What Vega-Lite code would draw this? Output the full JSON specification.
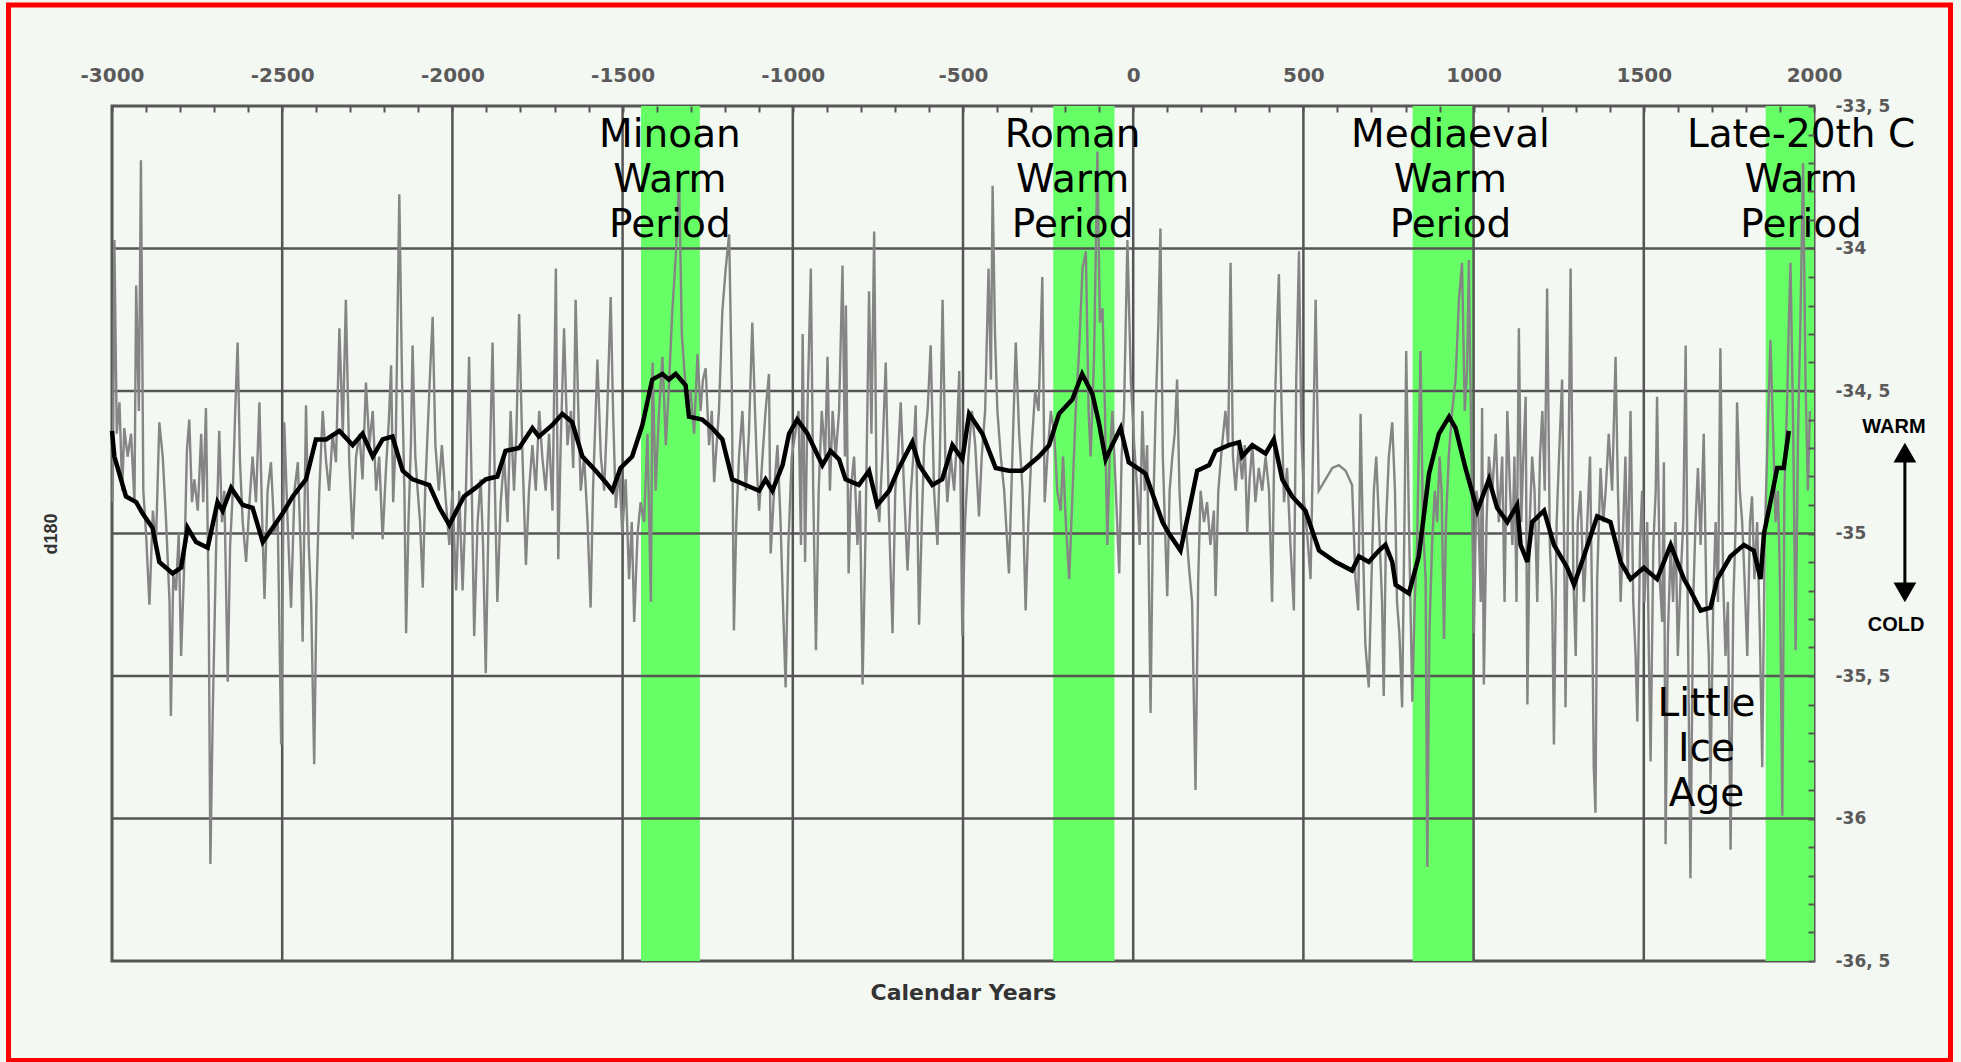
{
  "$schema": "https://vega.github.io/schema/vega-lite/v6.json",
  "width": 1702,
  "height": 855,
  "autosize": {"type": "none"},
  "padding": {"left": 112, "top": 106, "right": 147, "bottom": 101},
  "background": "#F4F8F3",
  "config": {"view": {"stroke": "#555555", "strokeWidth": 3}},
  "datasets": {
    "one": [{}],
    "bands": [
      {"name": "Minoan", "start": -1446, "end": -1273},
      {"name": "Roman", "start": -235, "end": -55},
      {"name": "Mediaeval", "start": 821, "end": 999},
      {"name": "Late-20th", "start": 1858, "end": 2000}
    ],
    "notes": [
      {"label": "Minoan\nWarm\nPeriod", "t": -1361, "v": -33.644},
      {"label": "Roman\nWarm\nPeriod", "t": -178, "v": -33.644},
      {"label": "Mediaeval\nWarm\nPeriod", "t": 932, "v": -33.644},
      {"label": "Late-20th C\nWarm\nPeriod", "t": 1962, "v": -33.644},
      {"label": "Little\nIce\nAge", "t": 1684, "v": -35.639}
    ],
    "side": [
      {"label": "WARM", "t": 2235, "v": -34.628},
      {"label": "COLD", "t": 2241, "v": -35.321}
    ],
    "heads": [
      {"dir": "up", "t": 2267, "v": -34.716},
      {"dir": "down", "t": 2267, "v": -35.207}
    ],
    "black": [
      {"t":-3000,"v":-34.64},{"t":-2993,"v":-34.73},{"t":-2959,"v":-34.87},{"t":-2929,"v":-34.89},{"t":-2910,"v":-34.93},{"t":-2881,"v":-34.98},{"t":-2861,"v":-35.10},{"t":-2822,"v":-35.14},{"t":-2797,"v":-35.12},{"t":-2778,"v":-34.98},{"t":-2753,"v":-35.03},{"t":-2719,"v":-35.05},{"t":-2690,"v":-34.89},{"t":-2675,"v":-34.92},{"t":-2650,"v":-34.84},{"t":-2616,"v":-34.90},{"t":-2587,"v":-34.91},{"t":-2557,"v":-35.03},{"t":-2528,"v":-34.98},{"t":-2499,"v":-34.93},{"t":-2469,"v":-34.87},{"t":-2430,"v":-34.81},{"t":-2401,"v":-34.67},{"t":-2371,"v":-34.67},{"t":-2332,"v":-34.64},{"t":-2293,"v":-34.69},{"t":-2264,"v":-34.65},{"t":-2234,"v":-34.73},{"t":-2205,"v":-34.67},{"t":-2176,"v":-34.66},{"t":-2146,"v":-34.78},{"t":-2117,"v":-34.81},{"t":-2068,"v":-34.83},{"t":-2038,"v":-34.91},{"t":-2009,"v":-34.97},{"t":-1988,"v":-34.92},
      {"t":-1966,"v":-34.87},{"t":-1932,"v":-34.84},{"t":-1902,"v":-34.81},{"t":-1868,"v":-34.80},{"t":-1844,"v":-34.71},{"t":-1804,"v":-34.70},{"t":-1765,"v":-34.63},{"t":-1746,"v":-34.66},{"t":-1707,"v":-34.62},{"t":-1677,"v":-34.58},{"t":-1648,"v":-34.61},{"t":-1618,"v":-34.73},{"t":-1579,"v":-34.78},{"t":-1550,"v":-34.82},{"t":-1530,"v":-34.85},{"t":-1506,"v":-34.77},{"t":-1472,"v":-34.73},{"t":-1442,"v":-34.62},{"t":-1413,"v":-34.46},{"t":-1383,"v":-34.44},{"t":-1364,"v":-34.46},{"t":-1344,"v":-34.44},{"t":-1315,"v":-34.48},{"t":-1305,"v":-34.59},{"t":-1266,"v":-34.60},{"t":-1237,"v":-34.63},{"t":-1207,"v":-34.67},{"t":-1178,"v":-34.81},{"t":-1139,"v":-34.83},{"t":-1099,"v":-34.85},{"t":-1080,"v":-34.81},{"t":-1060,"v":-34.85},{"t":-1030,"v":-34.76},{"t":-1011,"v":-34.65},{"t":-987,"v":-34.60},
      {"t":-957,"v":-34.65},{"t":-913,"v":-34.76},{"t":-889,"v":-34.71},{"t":-864,"v":-34.74},{"t":-845,"v":-34.81},{"t":-806,"v":-34.83},{"t":-776,"v":-34.78},{"t":-752,"v":-34.90},{"t":-717,"v":-34.85},{"t":-688,"v":-34.77},{"t":-649,"v":-34.68},{"t":-629,"v":-34.76},{"t":-590,"v":-34.83},{"t":-561,"v":-34.81},{"t":-531,"v":-34.69},{"t":-502,"v":-34.74},{"t":-482,"v":-34.58},{"t":-443,"v":-34.65},{"t":-404,"v":-34.77},{"t":-365,"v":-34.78},{"t":-326,"v":-34.78},{"t":-277,"v":-34.73},{"t":-247,"v":-34.69},{"t":-218,"v":-34.58},{"t":-179,"v":-34.53},{"t":-150,"v":-34.44},{"t":-120,"v":-34.51},{"t":-101,"v":-34.61},{"t":-81,"v":-34.74},{"t":-62,"v":-34.69},{"t":-37,"v":-34.63},{"t":-13,"v":-34.75},{"t":12,"v":-34.77},
      {"t":36,"v":-34.79},{"t":86,"v":-34.96},{"t":105,"v":-35.00},{"t":139,"v":-35.06},{"t":164,"v":-34.92},{"t":188,"v":-34.78},{"t":223,"v":-34.76},{"t":242,"v":-34.71},{"t":281,"v":-34.69},{"t":311,"v":-34.68},{"t":320,"v":-34.73},{"t":350,"v":-34.69},{"t":389,"v":-34.72},{"t":413,"v":-34.67},{"t":438,"v":-34.81},{"t":467,"v":-34.87},{"t":506,"v":-34.92},{"t":546,"v":-35.06},{"t":595,"v":-35.10},{"t":643,"v":-35.13},{"t":663,"v":-35.08},{"t":692,"v":-35.10},{"t":722,"v":-35.06},{"t":741,"v":-35.04},{"t":761,"v":-35.10},{"t":771,"v":-35.18},{"t":810,"v":-35.21},{"t":839,"v":-35.08},{"t":869,"v":-34.79},{"t":898,"v":-34.65},{"t":928,"v":-34.59},{"t":947,"v":-34.63},{"t":976,"v":-34.77},
      {"t":1011,"v":-34.92},{"t":1045,"v":-34.81},{"t":1069,"v":-34.91},{"t":1099,"v":-34.96},{"t":1128,"v":-34.90},{"t":1138,"v":-35.04},{"t":1158,"v":-35.10},{"t":1172,"v":-34.96},{"t":1207,"v":-34.92},{"t":1236,"v":-35.04},{"t":1275,"v":-35.12},{"t":1295,"v":-35.18},{"t":1324,"v":-35.08},{"t":1363,"v":-34.94},{"t":1402,"v":-34.96},{"t":1432,"v":-35.10},{"t":1461,"v":-35.16},{"t":1500,"v":-35.12},{"t":1539,"v":-35.16},{"t":1579,"v":-35.04},{"t":1618,"v":-35.16},{"t":1637,"v":-35.20},{"t":1667,"v":-35.27},{"t":1696,"v":-35.26},{"t":1716,"v":-35.16},{"t":1755,"v":-35.08},{"t":1794,"v":-35.04},{"t":1823,"v":-35.06},{"t":1843,"v":-35.16},{"t":1853,"v":-35.00},{"t":1872,"v":-34.89},{"t":1892,"v":-34.77},{"t":1911,"v":-34.77},{"t":1926,"v":-34.64}
    ],
    "gray": [
      {"t":-2998,"v":-34.89},{"t":-2993,"v":-33.97},{"t":-2986,"v":-34.65},{"t":-2978,"v":-34.54},{"t":-2970,"v":-34.85},{"t":-2964,"v":-34.63},{"t":-2954,"v":-34.73},{"t":-2944,"v":-34.65},{"t":-2934,"v":-34.89},{"t":-2929,"v":-34.13},{"t":-2921,"v":-34.57},{"t":-2915,"v":-33.69},{"t":-2908,"v":-34.85},{"t":-2900,"v":-35.00},{"t":-2890,"v":-35.25},{"t":-2880,"v":-34.92},{"t":-2871,"v":-35.04},{"t":-2861,"v":-34.61},{"t":-2851,"v":-34.73},{"t":-2841,"v":-34.96},{"t":-2831,"v":-35.24},{"t":-2827,"v":-35.64},{"t":-2820,"v":-35.14},{"t":-2812,"v":-35.20},{"t":-2804,"v":-35.00},{"t":-2797,"v":-35.43},{"t":-2787,"v":-35.08},{"t":-2780,"v":-34.71},{"t":-2773,"v":-34.60},{"t":-2765,"v":-34.89},{"t":-2758,"v":-34.81},{"t":-2748,"v":-34.92},{"t":-2738,"v":-34.65},{"t":-2732,"v":-34.89},{"t":-2724,"v":-34.56},{"t":-2716,"v":-35.24},{"t":-2711,"v":-36.16},{"t":-2704,"v":-35.63},{"t":-2694,"v":-35.04},{"t":-2685,"v":-34.64},{"t":-2677,"v":-34.96},{"t":-2670,"v":-34.85},{"t":-2660,"v":-35.52},{"t":-2653,"v":-35.04},{"t":-2645,"v":-34.85},{"t":-2638,"v":-34.57},{"t":-2631,"v":-34.33},{"t":-2624,"v":-34.75},{"t":-2616,"v":-34.96},{"t":-2606,"v":-35.10},{"t":-2596,"v":-34.89},{"t":-2587,"v":-34.73},{"t":-2577,"v":-34.89},{"t":-2567,"v":-34.54},{"t":-2559,"v":-34.94},{"t":-2552,"v":-35.23},{"t":-2543,"v":-34.85},{"t":-2533,"v":-34.75},{"t":-2523,"v":-35.00},{"t":-2513,"v":-34.96},{"t":-2503,"v":-35.74},{"t":-2499,"v":-35.24},{"t":-2494,"v":-34.61},{"t":-2484,"v":-34.96},{"t":-2474,"v":-35.26},{"t":-2464,"v":-34.85},{"t":-2454,"v":-34.75},{"t":-2445,"v":-35.08},{"t":-2440,"v":-35.38},{"t":-2430,"v":-34.55},{"t":-2422,"v":-35.04},{"t":-2415,"v":-35.24},{"t":-2406,"v":-35.81},{"t":-2399,"v":-35.20},{"t":-2391,"v":-34.85},{"t":-2381,"v":-34.57},{"t":-2371,"v":-34.75},{"t":-2362,"v":-34.85},{"t":-2352,"v":-34.65},{"t":-2342,"v":-34.75},{"t":-2332,"v":-34.28},{"t":-2322,"v":-34.65},{"t":-2313,"v":-34.18},{"t":-2303,"v":-34.75},{"t":-2293,"v":-35.02},{"t":-2283,"v":-34.73},{"t":-2273,"v":-34.65},{"t":-2264,"v":-34.81},{"t":-2254,"v":-34.47},{"t":-2244,"v":-34.69},{"t":-2234,"v":-34.57},{"t":-2224,"v":-34.85},{"t":-2215,"v":-34.73},{"t":-2205,"v":-35.02},{"t":-2195,"v":-34.77},{"t":-2187,"v":-34.61},{"t":-2180,"v":-34.41},{"t":-2174,"v":-34.89},{"t":-2166,"v":-34.65},{"t":-2156,"v":-33.81},{"t":-2148,"v":-34.46},{"t":-2141,"v":-34.85},{"t":-2136,"v":-35.35},{"t":-2129,"v":-34.96},{"t":-2122,"v":-34.69},{"t":-2117,"v":-34.34},{"t":-2109,"v":-34.73},{"t":-2102,"v":-34.85},{"t":-2095,"v":-34.96},{"t":-2087,"v":-35.19},{"t":-2080,"v":-34.85},{"t":-2073,"v":-34.65},{"t":-2065,"v":-34.42},{"t":-2058,"v":-34.24},{"t":-2050,"v":-34.69},{"t":-2040,"v":-34.85},{"t":-2031,"v":-34.69},{"t":-2019,"v":-34.89},{"t":-2009,"v":-35.04},{"t":-2000,"v":-34.85},{"t":-1989,"v":-35.20},
      {"t":-1980,"v":-34.85},{"t":-1970,"v":-35.20},{"t":-1961,"v":-34.89},{"t":-1951,"v":-34.38},{"t":-1943,"v":-34.85},{"t":-1936,"v":-35.36},{"t":-1926,"v":-34.96},{"t":-1917,"v":-34.81},{"t":-1910,"v":-35.04},{"t":-1902,"v":-35.49},{"t":-1894,"v":-34.96},{"t":-1882,"v":-34.33},{"t":-1875,"v":-34.85},{"t":-1868,"v":-35.24},{"t":-1858,"v":-34.89},{"t":-1848,"v":-34.73},{"t":-1838,"v":-34.96},{"t":-1829,"v":-34.57},{"t":-1819,"v":-34.85},{"t":-1812,"v":-34.65},{"t":-1804,"v":-34.23},{"t":-1794,"v":-34.73},{"t":-1784,"v":-35.11},{"t":-1775,"v":-34.85},{"t":-1765,"v":-34.69},{"t":-1755,"v":-34.85},{"t":-1745,"v":-34.57},{"t":-1736,"v":-34.73},{"t":-1726,"v":-34.85},{"t":-1716,"v":-34.65},{"t":-1706,"v":-34.92},{"t":-1696,"v":-34.07},{"t":-1689,"v":-35.09},{"t":-1682,"v":-34.69},{"t":-1672,"v":-34.28},{"t":-1662,"v":-34.69},{"t":-1652,"v":-34.57},{"t":-1645,"v":-34.77},{"t":-1638,"v":-34.18},{"t":-1630,"v":-34.57},{"t":-1623,"v":-34.85},{"t":-1613,"v":-34.73},{"t":-1603,"v":-34.96},{"t":-1594,"v":-35.26},{"t":-1587,"v":-34.85},{"t":-1579,"v":-34.57},{"t":-1574,"v":-34.39},{"t":-1564,"v":-34.73},{"t":-1554,"v":-34.85},{"t":-1545,"v":-34.57},{"t":-1535,"v":-34.17},{"t":-1528,"v":-34.57},{"t":-1520,"v":-34.91},{"t":-1510,"v":-34.77},{"t":-1501,"v":-35.00},{"t":-1491,"v":-34.81},{"t":-1481,"v":-35.16},{"t":-1473,"v":-34.96},{"t":-1466,"v":-35.31},{"t":-1456,"v":-35.00},{"t":-1447,"v":-34.89},{"t":-1437,"v":-34.96},{"t":-1427,"v":-34.65},{"t":-1417,"v":-35.24},{"t":-1412,"v":-34.40},{"t":-1403,"v":-34.85},{"t":-1393,"v":-34.57},{"t":-1383,"v":-34.38},{"t":-1373,"v":-34.69},{"t":-1363,"v":-34.46},{"t":-1354,"v":-34.22},{"t":-1344,"v":-34.03},{"t":-1334,"v":-33.76},{"t":-1326,"v":-34.30},{"t":-1319,"v":-34.42},{"t":-1310,"v":-34.57},{"t":-1300,"v":-34.50},{"t":-1290,"v":-34.65},{"t":-1280,"v":-34.37},{"t":-1271,"v":-34.57},{"t":-1264,"v":-34.46},{"t":-1256,"v":-34.42},{"t":-1246,"v":-34.69},{"t":-1238,"v":-34.57},{"t":-1231,"v":-34.82},{"t":-1224,"v":-34.69},{"t":-1217,"v":-34.57},{"t":-1207,"v":-34.22},{"t":-1197,"v":-34.07},{"t":-1187,"v":-33.95},{"t":-1179,"v":-34.50},{"t":-1173,"v":-35.34},{"t":-1166,"v":-34.96},{"t":-1158,"v":-34.73},{"t":-1148,"v":-34.57},{"t":-1138,"v":-34.85},{"t":-1129,"v":-34.65},{"t":-1119,"v":-34.26},{"t":-1111,"v":-34.57},{"t":-1104,"v":-34.81},{"t":-1099,"v":-34.92},{"t":-1089,"v":-34.73},{"t":-1080,"v":-34.57},{"t":-1070,"v":-34.44},{"t":-1065,"v":-35.07},{"t":-1055,"v":-34.85},{"t":-1045,"v":-34.69},{"t":-1036,"v":-34.96},{"t":-1029,"v":-35.24},{"t":-1021,"v":-35.54},{"t":-1013,"v":-35.04},{"t":-1003,"v":-34.73},{"t":-993,"v":-34.65},
      {"t":-983,"v":-34.57},{"t":-976,"v":-35.04},{"t":-971,"v":-34.30},{"t":-964,"v":-35.10},{"t":-957,"v":-34.57},{"t":-947,"v":-34.07},{"t":-940,"v":-34.85},{"t":-932,"v":-35.41},{"t":-924,"v":-34.85},{"t":-915,"v":-34.57},{"t":-905,"v":-34.73},{"t":-898,"v":-34.38},{"t":-891,"v":-34.85},{"t":-883,"v":-34.57},{"t":-874,"v":-34.73},{"t":-864,"v":-34.57},{"t":-854,"v":-34.06},{"t":-847,"v":-34.73},{"t":-844,"v":-34.20},{"t":-836,"v":-35.14},{"t":-830,"v":-34.85},{"t":-820,"v":-34.73},{"t":-810,"v":-35.04},{"t":-803,"v":-34.85},{"t":-795,"v":-35.53},{"t":-787,"v":-35.04},{"t":-781,"v":-34.57},{"t":-776,"v":-34.15},{"t":-769,"v":-34.65},{"t":-761,"v":-33.94},{"t":-754,"v":-34.85},{"t":-746,"v":-34.96},{"t":-737,"v":-34.73},{"t":-727,"v":-34.40},{"t":-717,"v":-34.96},{"t":-707,"v":-35.35},{"t":-699,"v":-34.85},{"t":-691,"v":-34.73},{"t":-683,"v":-34.54},{"t":-673,"v":-34.85},{"t":-663,"v":-35.13},{"t":-653,"v":-34.85},{"t":-646,"v":-34.73},{"t":-639,"v":-34.55},{"t":-629,"v":-35.32},{"t":-621,"v":-34.96},{"t":-614,"v":-34.69},{"t":-604,"v":-34.57},{"t":-595,"v":-34.34},{"t":-585,"v":-34.85},{"t":-575,"v":-35.04},{"t":-568,"v":-34.73},{"t":-560,"v":-34.18},{"t":-552,"v":-34.73},{"t":-546,"v":-34.89},{"t":-536,"v":-34.73},{"t":-526,"v":-34.85},{"t":-519,"v":-34.69},{"t":-511,"v":-34.43},{"t":-502,"v":-35.36},{"t":-494,"v":-34.96},{"t":-484,"v":-34.73},{"t":-474,"v":-34.57},{"t":-464,"v":-34.69},{"t":-453,"v":-34.94},{"t":-445,"v":-34.73},{"t":-435,"v":-34.57},{"t":-425,"v":-34.07},{"t":-418,"v":-34.46},{"t":-413,"v":-33.78},{"t":-406,"v":-34.30},{"t":-399,"v":-34.57},{"t":-389,"v":-34.73},{"t":-379,"v":-34.85},{"t":-365,"v":-35.14},{"t":-355,"v":-34.73},{"t":-345,"v":-34.33},{"t":-335,"v":-34.65},{"t":-325,"v":-34.85},{"t":-316,"v":-35.27},{"t":-308,"v":-34.96},{"t":-298,"v":-34.69},{"t":-288,"v":-34.50},{"t":-278,"v":-34.57},{"t":-267,"v":-34.10},{"t":-260,"v":-34.89},{"t":-252,"v":-34.73},{"t":-242,"v":-34.57},{"t":-232,"v":-34.65},{"t":-223,"v":-34.85},{"t":-213,"v":-34.92},{"t":-206,"v":-34.73},{"t":-198,"v":-34.96},{"t":-188,"v":-35.16},{"t":-178,"v":-34.85},{"t":-169,"v":-34.57},{"t":-159,"v":-34.36},{"t":-149,"v":-34.07},{"t":-139,"v":-34.01},{"t":-131,"v":-34.57},{"t":-125,"v":-34.73},{"t":-115,"v":-34.38},{"t":-105,"v":-33.66},{"t":-98,"v":-34.26},{"t":-90,"v":-34.21},{"t":-83,"v":-34.57},{"t":-76,"v":-35.04},{"t":-69,"v":-34.73},{"t":-61,"v":-34.57},{"t":-51,"v":-34.85},{"t":-41,"v":-35.14},{"t":-34,"v":-34.73},{"t":-27,"v":-34.57},{"t":-17,"v":-33.97},{"t":-7,"v":-34.46},{"t":3,"v":-34.69},{"t":12,"v":-34.85},
      {"t":19,"v":-35.04},{"t":27,"v":-34.57},{"t":34,"v":-34.85},{"t":41,"v":-34.69},{"t":51,"v":-35.63},{"t":58,"v":-34.96},{"t":66,"v":-34.57},{"t":74,"v":-34.26},{"t":80,"v":-33.93},{"t":87,"v":-34.73},{"t":93,"v":-34.96},{"t":100,"v":-35.22},{"t":107,"v":-34.85},{"t":115,"v":-34.73},{"t":122,"v":-34.65},{"t":129,"v":-34.46},{"t":136,"v":-34.85},{"t":144,"v":-35.04},{"t":154,"v":-34.96},{"t":164,"v":-35.12},{"t":173,"v":-35.24},{"t":183,"v":-35.90},{"t":191,"v":-35.16},{"t":198,"v":-34.85},{"t":208,"v":-34.96},{"t":217,"v":-34.89},{"t":227,"v":-35.04},{"t":237,"v":-34.92},{"t":242,"v":-35.22},{"t":250,"v":-34.85},{"t":261,"v":-34.69},{"t":271,"v":-34.57},{"t":279,"v":-34.69},{"t":286,"v":-34.05},{"t":293,"v":-34.73},{"t":301,"v":-34.85},{"t":310,"v":-34.69},{"t":320,"v":-34.81},{"t":328,"v":-34.69},{"t":335,"v":-35.00},{"t":342,"v":-34.81},{"t":350,"v":-34.69},{"t":359,"v":-34.89},{"t":369,"v":-34.77},{"t":379,"v":-34.85},{"t":389,"v":-34.73},{"t":399,"v":-34.85},{"t":408,"v":-35.24},{"t":416,"v":-34.57},{"t":423,"v":-34.26},{"t":428,"v":-34.09},{"t":436,"v":-34.57},{"t":443,"v":-34.89},{"t":452,"v":-34.77},{"t":462,"v":-35.04},{"t":472,"v":-35.27},{"t":479,"v":-34.46},{"t":487,"v":-34.01},{"t":494,"v":-34.65},{"t":502,"v":-34.89},{"t":511,"v":-35.00},{"t":521,"v":-35.16},{"t":528,"v":-34.73},{"t":536,"v":-34.18},{"t":545,"v":-34.85},{"t":565,"v":-34.81},{"t":585,"v":-34.77},{"t":604,"v":-34.76},{"t":624,"v":-34.78},{"t":643,"v":-34.83},{"t":653,"v":-35.16},{"t":661,"v":-35.27},{"t":668,"v":-34.58},{"t":675,"v":-35.04},{"t":682,"v":-35.39},{"t":692,"v":-35.54},{"t":700,"v":-35.16},{"t":707,"v":-34.85},{"t":714,"v":-34.73},{"t":722,"v":-34.96},{"t":731,"v":-35.24},{"t":736,"v":-35.57},{"t":743,"v":-34.96},{"t":751,"v":-34.73},{"t":761,"v":-34.61},{"t":769,"v":-34.85},{"t":775,"v":-35.24},{"t":782,"v":-35.35},{"t":790,"v":-35.61},{"t":798,"v":-34.85},{"t":802,"v":-34.36},{"t":810,"v":-34.96},{"t":820,"v":-35.59},{"t":827,"v":-35.24},{"t":834,"v":-35.04},{"t":844,"v":-34.36},{"t":851,"v":-34.96},{"t":859,"v":-35.16},{"t":864,"v":-36.17},{"t":870,"v":-35.35},{"t":878,"v":-35.04},{"t":886,"v":-34.85},{"t":893,"v":-34.96},{"t":900,"v":-34.73},{"t":906,"v":-34.85},{"t":913,"v":-35.37},{"t":919,"v":-34.96},{"t":927,"v":-34.73},{"t":937,"v":-34.57},{"t":947,"v":-34.46},{"t":957,"v":-34.18},{"t":966,"v":-34.05},{"t":974,"v":-34.57},{"t":981,"v":-34.42},{"t":986,"v":-34.04},{"t":994,"v":-34.77},{"t":1001,"v":-35.35},{"t":1008,"v":-34.85},
      {"t":1013,"v":-34.89},{"t":1021,"v":-35.24},{"t":1025,"v":-34.56},{"t":1030,"v":-35.53},{"t":1038,"v":-34.96},{"t":1045,"v":-34.73},{"t":1055,"v":-34.85},{"t":1065,"v":-34.65},{"t":1074,"v":-34.96},{"t":1084,"v":-34.73},{"t":1091,"v":-35.24},{"t":1099,"v":-34.57},{"t":1107,"v":-34.85},{"t":1114,"v":-35.04},{"t":1120,"v":-34.73},{"t":1126,"v":-35.24},{"t":1133,"v":-34.28},{"t":1140,"v":-34.96},{"t":1146,"v":-34.73},{"t":1153,"v":-34.52},{"t":1158,"v":-35.60},{"t":1165,"v":-34.96},{"t":1172,"v":-34.73},{"t":1179,"v":-34.85},{"t":1187,"v":-35.24},{"t":1195,"v":-34.73},{"t":1202,"v":-34.57},{"t":1209,"v":-34.85},{"t":1216,"v":-34.14},{"t":1224,"v":-35.04},{"t":1231,"v":-35.24},{"t":1236,"v":-35.74},{"t":1244,"v":-34.96},{"t":1251,"v":-34.73},{"t":1260,"v":-34.46},{"t":1267,"v":-35.16},{"t":1270,"v":-35.61},{"t":1277,"v":-34.96},{"t":1285,"v":-34.07},{"t":1293,"v":-35.16},{"t":1300,"v":-35.43},{"t":1306,"v":-34.96},{"t":1314,"v":-34.85},{"t":1324,"v":-35.24},{"t":1334,"v":-34.96},{"t":1342,"v":-34.73},{"t":1348,"v":-35.24},{"t":1353,"v":-35.82},{"t":1358,"v":-35.98},{"t":1363,"v":-35.16},{"t":1373,"v":-34.77},{"t":1381,"v":-34.96},{"t":1388,"v":-34.85},{"t":1397,"v":-34.65},{"t":1407,"v":-34.85},{"t":1417,"v":-34.38},{"t":1424,"v":-34.85},{"t":1432,"v":-35.24},{"t":1440,"v":-34.96},{"t":1446,"v":-34.73},{"t":1453,"v":-35.16},{"t":1461,"v":-34.57},{"t":1469,"v":-35.24},{"t":1476,"v":-35.43},{"t":1481,"v":-35.66},{"t":1489,"v":-35.04},{"t":1495,"v":-34.85},{"t":1502,"v":-35.24},{"t":1510,"v":-34.96},{"t":1515,"v":-35.43},{"t":1520,"v":-35.80},{"t":1528,"v":-35.04},{"t":1535,"v":-34.85},{"t":1539,"v":-34.52},{"t":1547,"v":-35.16},{"t":1554,"v":-35.31},{"t":1559,"v":-34.75},{"t":1564,"v":-36.09},{"t":1571,"v":-35.35},{"t":1579,"v":-35.04},{"t":1586,"v":-35.24},{"t":1593,"v":-34.96},{"t":1600,"v":-35.43},{"t":1608,"v":-35.16},{"t":1616,"v":-34.96},{"t":1623,"v":-34.34},{"t":1629,"v":-35.24},{"t":1637,"v":-36.21},{"t":1645,"v":-35.24},{"t":1652,"v":-34.96},{"t":1659,"v":-34.77},{"t":1667,"v":-35.04},{"t":1676,"v":-34.65},{"t":1684,"v":-35.24},{"t":1691,"v":-35.43},{"t":1696,"v":-35.88},{"t":1704,"v":-35.24},{"t":1711,"v":-34.96},{"t":1718,"v":-35.24},{"t":1725,"v":-34.35},{"t":1733,"v":-35.16},{"t":1740,"v":-35.43},{"t":1747,"v":-35.24},{"t":1755,"v":-36.11},{"t":1763,"v":-35.24},{"t":1770,"v":-34.96},{"t":1774,"v":-34.54},{"t":1782,"v":-34.85},{"t":1789,"v":-34.96},{"t":1796,"v":-35.16},{"t":1804,"v":-35.43},{"t":1812,"v":-34.96},{"t":1818,"v":-34.87},{"t":1825,"v":-35.16},{"t":1833,"v":-34.96},{"t":1841,"v":-35.35},{"t":1848,"v":-35.82},{"t":1855,"v":-35.04},{"t":1862,"v":-34.73},{"t":1872,"v":-34.32},{"t":1880,"v":-34.65},{"t":1887,"v":-34.96},{"t":1894,"v":-34.85},{"t":1900,"v":-35.16},{"t":1907,"v":-35.99},{"t":1913,"v":-34.85},{"t":1921,"v":-34.54},{"t":1926,"v":-34.26},{"t":1931,"v":-34.05},{"t":1939,"v":-34.65},{"t":1946,"v":-35.41},{"t":1953,"v":-34.65},{"t":1960,"v":-34.26},{"t":1968,"v":-33.70},{"t":1975,"v":-34.46},{"t":1982,"v":-34.85},{"t":1988,"v":-34.57}
    ]
  },
  "layer": [
    {
      "data": {"name": "one"},
      "mark": {"type": "rect", "fill": "transparent", "stroke": "#FF0000", "strokeWidth": 5},
      "encoding": {
        "x": {"datum": -3304, "type": "quantitative", "scale": {"domain": [-3000, 2000], "nice": false, "zero": false}, "axis": null},
        "x2": {"datum": 2401},
        "y": {"datum": -33.146, "type": "quantitative", "scale": {"domain": [-36.5, -33.5], "nice": false, "zero": false}, "axis": null},
        "y2": {"datum": -36.849}
      }
    },
    {
      "data": {"name": "bands"},
      "mark": {"type": "rect", "color": "#66FF66"},
      "encoding": {
        "x": {
          "field": "start", "type": "quantitative",
          "scale": {"domain": [-3000, 2000], "nice": false, "zero": false},
          "axis": {
            "orient": "top",
            "values": [-3000,-2900,-2800,-2700,-2600,-2500,-2400,-2300,-2200,-2100,-2000,-1900,-1800,-1700,-1600,-1500,-1400,-1300,-1200,-1100,-1000,-900,-800,-700,-600,-500,-400,-300,-200,-100,0,100,200,300,400,500,600,700,800,900,1000,1100,1200,1300,1400,1500,1600,1700,1800,1900,2000],
            "labelExpr": "datum.value % 500 == 0 ? (datum.value < 0 ? '-' + abs(datum.value) : '' + datum.value) : ''",
            "labelOverlap": false, "labelFlush": false,
            "tickSize": -6, "tickWidth": 2, "tickColor": "#555555",
            "domain": false, "grid": false,
            "labelFont": "DejaVu Sans", "labelFontSize": 20, "labelFontWeight": "bold", "labelColor": "#5a5a5a",
            "labelPadding": 27, "title": null, "zindex": 1
          }
        },
        "x2": {"field": "end"}
      }
    },
    {
      "data": {"values": [{"g": -2500}, {"g": -2000}, {"g": -1500}, {"g": -1000}, {"g": -500}, {"g": 0}, {"g": 500}, {"g": 1000}, {"g": 1500}]},
      "mark": {"type": "rule", "color": "#555555", "strokeWidth": 2.5},
      "encoding": {
        "x": {"field": "g", "type": "quantitative", "scale": {"domain": [-3000, 2000], "nice": false, "zero": false}, "axis": null}
      }
    },
    {
      "data": {"values": [{"h": -34}, {"h": -34.5}, {"h": -35}, {"h": -35.5}, {"h": -36}]},
      "mark": {"type": "rule", "color": "#555555", "strokeWidth": 2.5},
      "encoding": {
        "y": {
          "field": "h", "type": "quantitative",
          "scale": {"domain": [-36.5, -33.5], "nice": false, "zero": false},
          "axis": {
            "orient": "right",
            "values": [-33.5,-33.6,-33.7,-33.8,-33.9,-34,-34.1,-34.2,-34.3,-34.4,-34.5,-34.6,-34.7,-34.8,-34.9,-35,-35.1,-35.2,-35.3,-35.4,-35.5,-35.6,-35.7,-35.8,-35.9,-36,-36.1,-36.2,-36.3,-36.4,-36.5],
            "labelExpr": "abs(datum.value * 2 - round(datum.value * 2)) < 0.001 ? replace('' + datum.value, '.', ', ') : ''",
            "labelOverlap": false, "labelFlush": false,
            "tickSize": -6, "tickWidth": 2, "tickColor": "#555555",
            "domain": false, "grid": false,
            "labelFont": "DejaVu Sans", "labelFontSize": 17, "labelFontWeight": "bold", "labelColor": "#5a5a5a",
            "labelPadding": 27, "labelAlign": "left", "title": null, "zindex": 1
          }
        }
      }
    },
    {
      "data": {"name": "gray"},
      "mark": {"type": "line", "color": "#858585", "strokeWidth": 2.4},
      "encoding": {
        "x": {"field": "t", "type": "quantitative", "scale": {"domain": [-3000, 2000], "nice": false, "zero": false}, "axis": null},
        "y": {"field": "v", "type": "quantitative", "scale": {"domain": [-36.5, -33.5], "nice": false, "zero": false}, "axis": null}
      }
    },
    {
      "data": {"name": "black"},
      "mark": {"type": "line", "color": "#000000", "strokeWidth": 4.5},
      "encoding": {
        "x": {
          "field": "t", "type": "quantitative",
          "scale": {"domain": [-3000, 2000], "nice": false, "zero": false},
          "axis": {"orient": "bottom", "title": "Calendar Years", "labels": false, "ticks": false, "domain": false, "grid": false, "titleFont": "DejaVu Sans", "titleFontSize": 22, "titleFontWeight": "bold", "titleColor": "#333333", "titlePadding": 21}
        },
        "y": {
          "field": "v", "type": "quantitative",
          "scale": {"domain": [-36.5, -33.5], "nice": false, "zero": false},
          "axis": {"orient": "left", "title": "d180", "labels": false, "ticks": false, "domain": false, "grid": false, "titleFont": "Liberation Sans", "titleFontSize": 18, "titleFontWeight": "bold", "titleColor": "#333333", "titlePadding": 52}
        }
      }
    },
    {
      "data": {"name": "notes"},
      "mark": {"type": "text", "font": "DejaVu Sans", "fontSize": 39, "lineBreak": "\n", "lineHeight": 45, "align": "center", "baseline": "alphabetic", "color": "#000000"},
      "encoding": {
        "x": {"field": "t", "type": "quantitative", "scale": {"domain": [-3000, 2000], "nice": false, "zero": false}, "axis": null},
        "y": {"field": "v", "type": "quantitative", "scale": {"domain": [-36.5, -33.5], "nice": false, "zero": false}, "axis": null},
        "text": {"field": "label"}
      }
    },
    {
      "data": {"name": "side"},
      "mark": {"type": "text", "font": "Liberation Sans", "fontSize": 20, "fontWeight": "bold", "align": "center", "baseline": "middle", "color": "#000000"},
      "encoding": {
        "x": {"field": "t", "type": "quantitative", "scale": {"domain": [-3000, 2000], "nice": false, "zero": false}, "axis": null},
        "y": {"field": "v", "type": "quantitative", "scale": {"domain": [-36.5, -33.5], "nice": false, "zero": false}, "axis": null},
        "text": {"field": "label"}
      }
    },
    {
      "data": {"name": "one"},
      "mark": {"type": "rule", "color": "#000000", "strokeWidth": 3},
      "encoding": {
        "x": {"datum": 2267, "type": "quantitative", "scale": {"domain": [-3000, 2000], "nice": false, "zero": false}, "axis": null},
        "y": {"datum": -34.72, "type": "quantitative", "scale": {"domain": [-36.5, -33.5], "nice": false, "zero": false}, "axis": null},
        "y2": {"datum": -35.2}
      }
    },
    {
      "data": {"name": "heads"},
      "mark": {"type": "point", "filled": true, "size": 520, "color": "#000000", "opacity": 1},
      "encoding": {
        "x": {"field": "t", "type": "quantitative", "scale": {"domain": [-3000, 2000], "nice": false, "zero": false}, "axis": null},
        "y": {"field": "v", "type": "quantitative", "scale": {"domain": [-36.5, -33.5], "nice": false, "zero": false}, "axis": null},
        "shape": {"field": "dir", "type": "nominal", "scale": {"domain": ["up", "down"], "range": ["triangle-up", "triangle-down"]}, "legend": null}
      }
    }
  ],
  "resolve": {"axis": {"x": "independent", "y": "independent"}}
}
